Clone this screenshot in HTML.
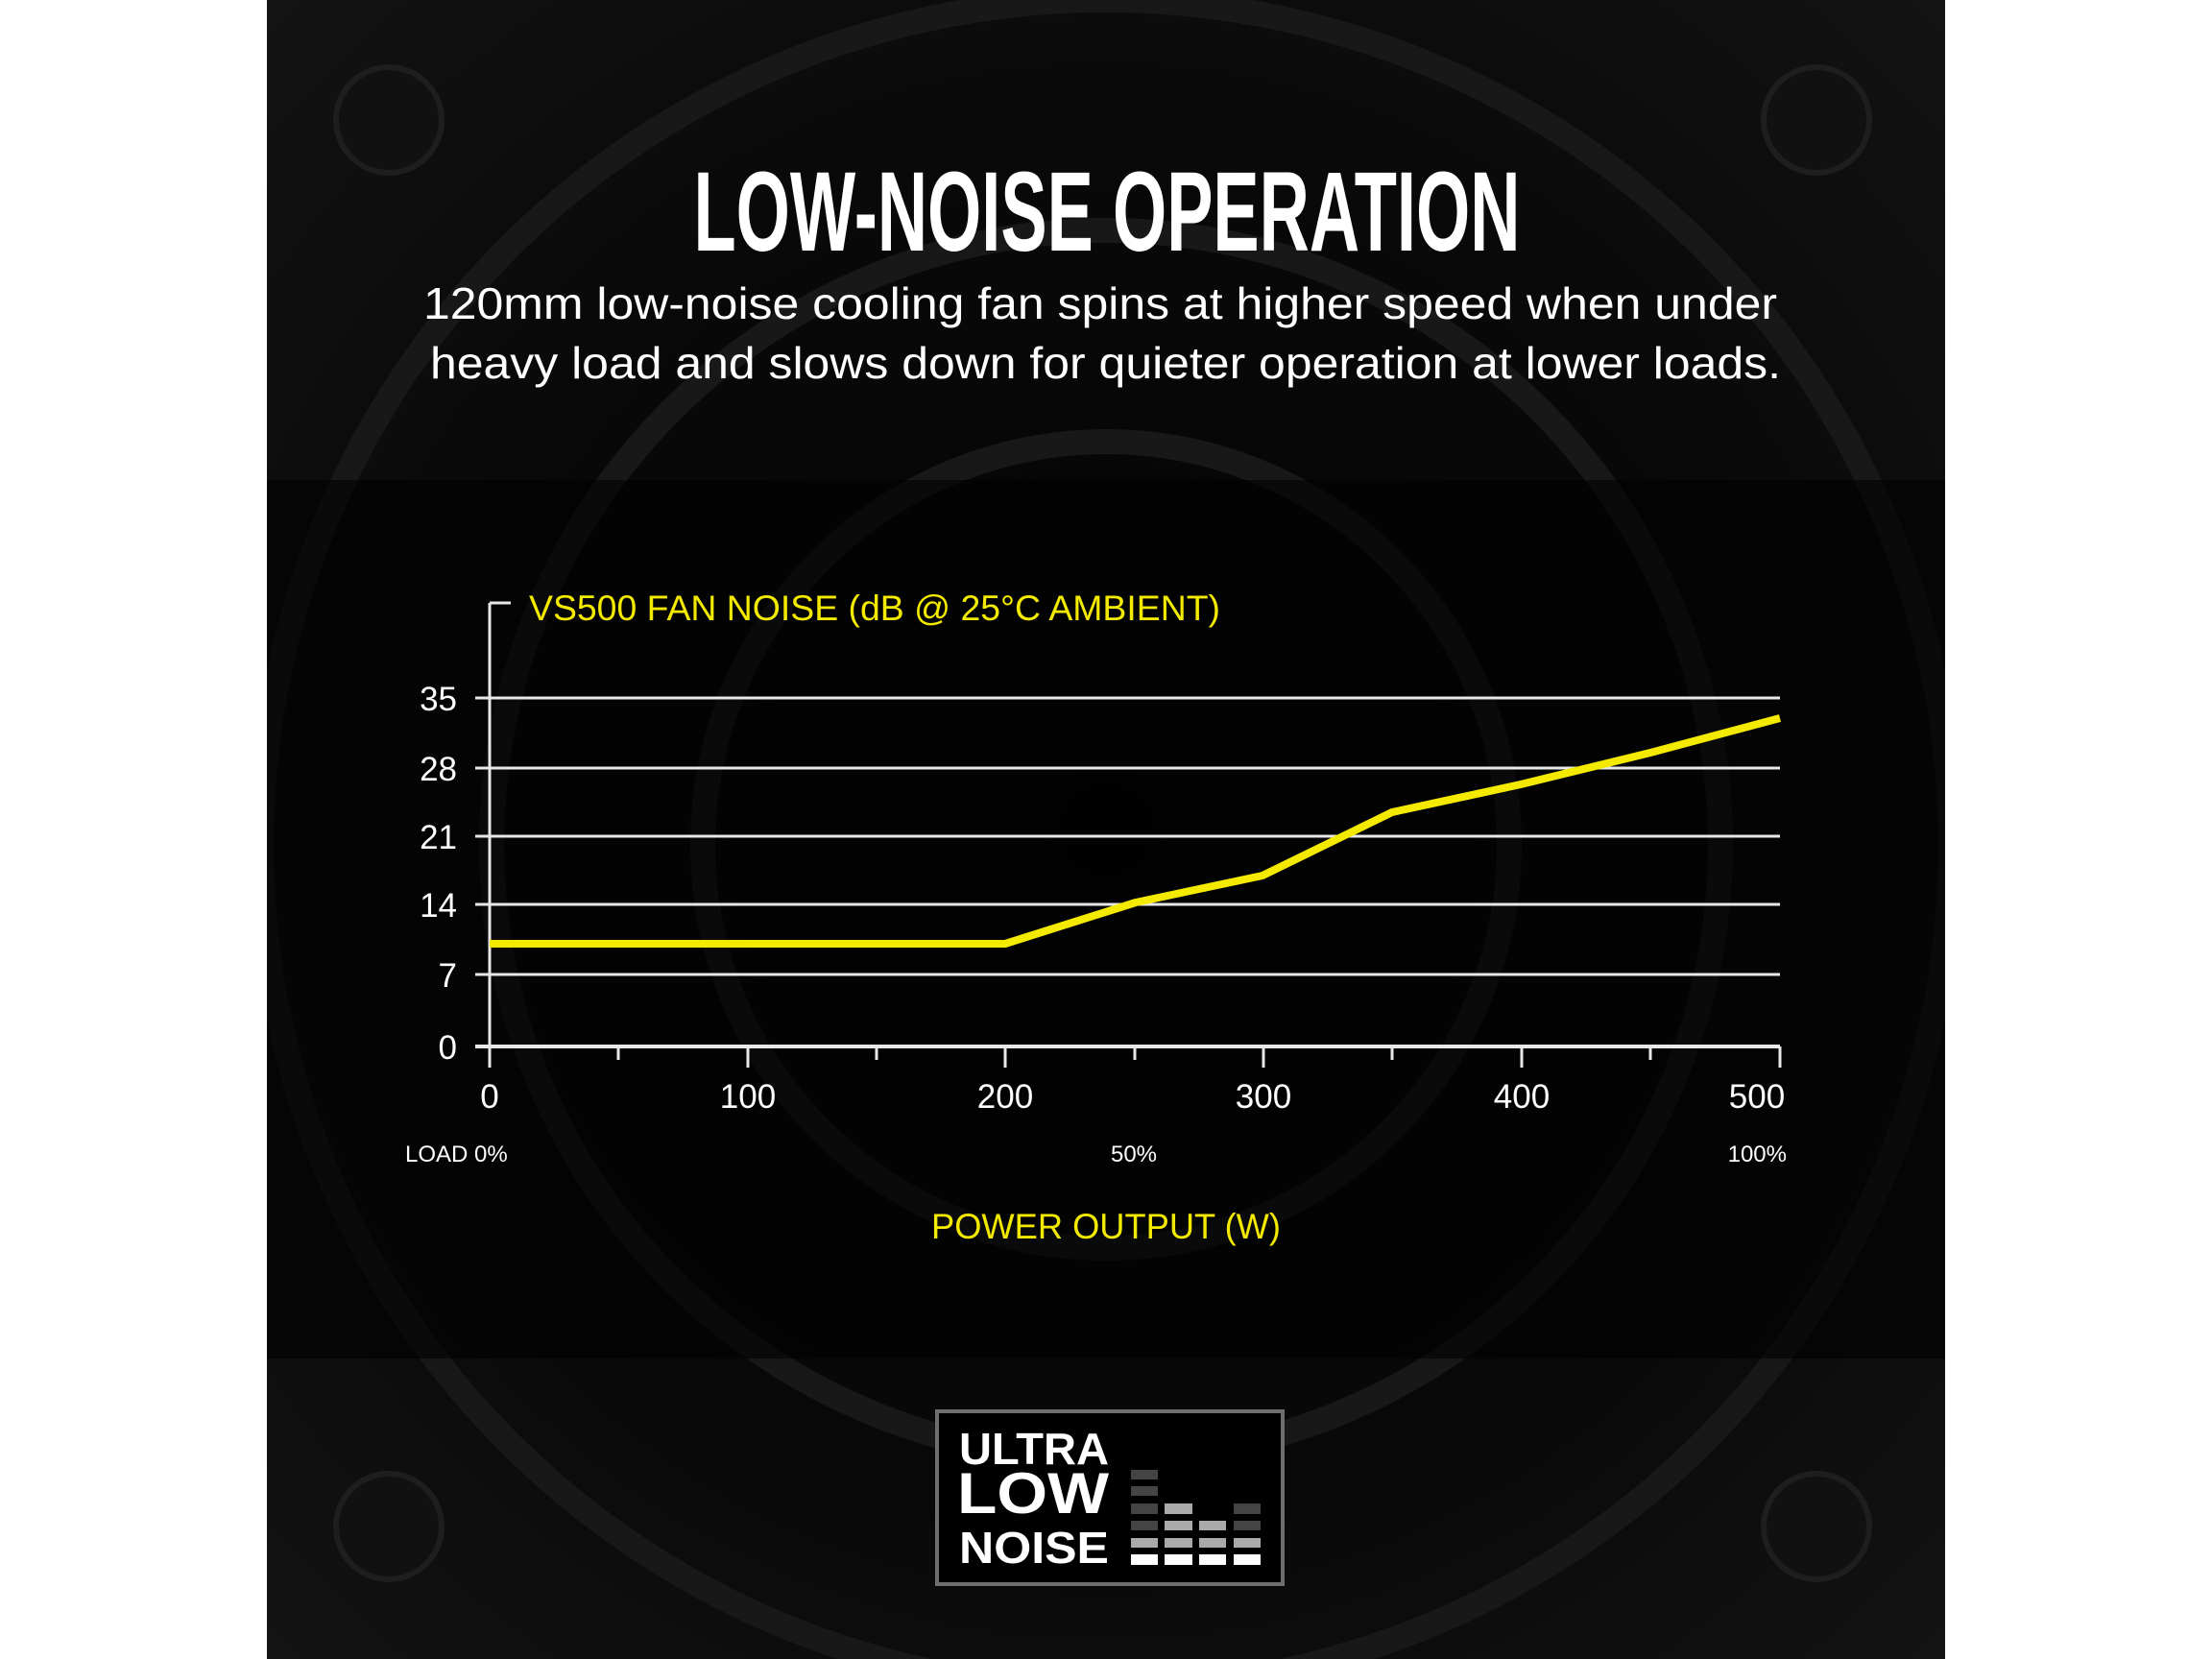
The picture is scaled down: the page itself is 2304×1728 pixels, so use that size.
<!DOCTYPE html>
<html><head><meta charset="utf-8"><style>
html,body{margin:0;padding:0;background:#fff;}
svg{display:block;}
</style></head><body>
<svg width="2304" height="1728" viewBox="0 0 2304 1728" xmlns="http://www.w3.org/2000/svg" font-family="Liberation Sans, sans-serif">
<defs>
<radialGradient id="bg" cx="50%" cy="50%" r="70%">
<stop offset="0" stop-color="#040404"/><stop offset="0.6" stop-color="#090909"/><stop offset="1" stop-color="#131313"/>
</radialGradient>
<clipPath id="clip"><rect x="278" y="0" width="1748" height="1728"/></clipPath>
</defs>
<rect x="278" y="0" width="1748" height="1728" fill="url(#bg)"/>
<g clip-path="url(#clip)">
<g fill="none" stroke="#181818" stroke-width="26">
<circle cx="1152" cy="880" r="880"/>
<circle cx="1152" cy="880" r="640"/>
<circle cx="1152" cy="880" r="420"/>
</g>
<g fill="#111" stroke="#1e1e1e" stroke-width="6">
<circle cx="405" cy="125" r="55"/><circle cx="1892" cy="125" r="55"/>
<circle cx="405" cy="1590" r="55"/><circle cx="1892" cy="1590" r="55"/>
</g>
</g>
<rect x="278" y="500" width="1748" height="915" fill="#000" opacity="0.55"/>

<text x="1153" y="261" font-size="118" font-weight="bold" fill="#fff" text-anchor="middle" textLength="861" lengthAdjust="spacingAndGlyphs">LOW-NOISE OPERATION</text>
<text x="441" y="332" font-size="46" fill="#fff" textLength="1410" lengthAdjust="spacingAndGlyphs">120mm low-noise cooling fan spins at higher speed when under</text>
<text x="448" y="394" font-size="46" fill="#fff" textLength="1407" lengthAdjust="spacingAndGlyphs">heavy load and slows down for quieter operation at lower loads.</text>

<text x="551" y="646" font-size="37" fill="#f4ea00" textLength="720" lengthAdjust="spacingAndGlyphs">VS500 FAN NOISE (dB @ 25°C AMBIENT)</text>
<g stroke="#e8e8e8" stroke-width="3">
<line x1="510" y1="628" x2="510" y2="1092"/>
<line x1="510" y1="628" x2="532" y2="628"/>
<line x1="495" y1="727" x2="1854" y2="727"/>
<line x1="495" y1="800" x2="1854" y2="800"/>
<line x1="495" y1="871" x2="1854" y2="871"/>
<line x1="495" y1="942" x2="1854" y2="942"/>
<line x1="495" y1="1015" x2="1854" y2="1015"/>
<line x1="495" y1="1090" x2="1854" y2="1090" stroke-width="4"/>
<line x1="510" y1="1090" x2="510" y2="1112"/>
<line x1="644" y1="1090" x2="644" y2="1104"/>
<line x1="779" y1="1090" x2="779" y2="1112"/>
<line x1="913" y1="1090" x2="913" y2="1104"/>
<line x1="1047" y1="1090" x2="1047" y2="1112"/>
<line x1="1182" y1="1090" x2="1182" y2="1104"/>
<line x1="1316" y1="1090" x2="1316" y2="1112"/>
<line x1="1450" y1="1090" x2="1450" y2="1104"/>
<line x1="1585" y1="1090" x2="1585" y2="1112"/>
<line x1="1719" y1="1090" x2="1719" y2="1104"/>
<line x1="1854" y1="1090" x2="1854" y2="1112"/>
</g>
<g fill="#fff" font-size="35" text-anchor="end">
<text x="476" y="740">35</text><text x="476" y="813">28</text><text x="476" y="884">21</text>
<text x="476" y="955">14</text><text x="476" y="1028">7</text><text x="476" y="1103">0</text>
</g>
<g fill="#fff" font-size="35" text-anchor="middle">
<text x="510" y="1154">0</text><text x="779" y="1154">100</text><text x="1047" y="1154">200</text>
<text x="1316" y="1154">300</text><text x="1585" y="1154">400</text><text x="1830" y="1154">500</text>
</g>
<g fill="#fff" font-size="24">
<text x="422" y="1210">LOAD  0%</text>
<text x="1181" y="1210" text-anchor="middle">50%</text>
<text x="1861" y="1210" text-anchor="end">100%</text>
</g>
<polyline points="510,983 1047,983 1183,940 1315,912 1450,846 1584,817 1719,784 1854,748" fill="none" stroke="#f4ea00" stroke-width="8" stroke-linejoin="round"/>
<text x="1152" y="1290" font-size="37" fill="#f4ea00" text-anchor="middle" textLength="364" lengthAdjust="spacingAndGlyphs">POWER OUTPUT (W)</text>

<rect x="976" y="1470" width="360" height="180" fill="#000" stroke="#6e6e6e" stroke-width="4"/>
<g fill="#fff" font-weight="bold">
<text x="999" y="1525" font-size="46" textLength="156" lengthAdjust="spacingAndGlyphs">ULTRA</text>
<text x="997" y="1576" font-size="60" textLength="158" lengthAdjust="spacingAndGlyphs">LOW</text>
<text x="999" y="1628" font-size="46" textLength="156" lengthAdjust="spacingAndGlyphs">NOISE</text>
</g>
<g>
<rect x="1178" y="1531" width="28" height="10" fill="#444"/>
<rect x="1178" y="1548" width="28" height="10" fill="#444"/>
<rect x="1178" y="1566" width="28" height="11" fill="#444"/>
<rect x="1178" y="1584" width="28" height="10" fill="#444"/>
<rect x="1178" y="1602" width="28" height="10" fill="#aaa"/>
<rect x="1178" y="1619" width="28" height="11" fill="#fff"/>
<rect x="1213" y="1566" width="29" height="11" fill="#aaa"/>
<rect x="1213" y="1584" width="29" height="10" fill="#aaa"/>
<rect x="1213" y="1602" width="29" height="10" fill="#aaa"/>
<rect x="1213" y="1619" width="29" height="11" fill="#fff"/>
<rect x="1249" y="1584" width="28" height="10" fill="#aaa"/>
<rect x="1249" y="1602" width="28" height="10" fill="#aaa"/>
<rect x="1249" y="1619" width="28" height="11" fill="#fff"/>
<rect x="1285" y="1566" width="28" height="11" fill="#444"/>
<rect x="1285" y="1584" width="28" height="10" fill="#444"/>
<rect x="1285" y="1602" width="28" height="10" fill="#aaa"/>
<rect x="1285" y="1619" width="28" height="11" fill="#fff"/>
</g>
</svg>
</body></html>
